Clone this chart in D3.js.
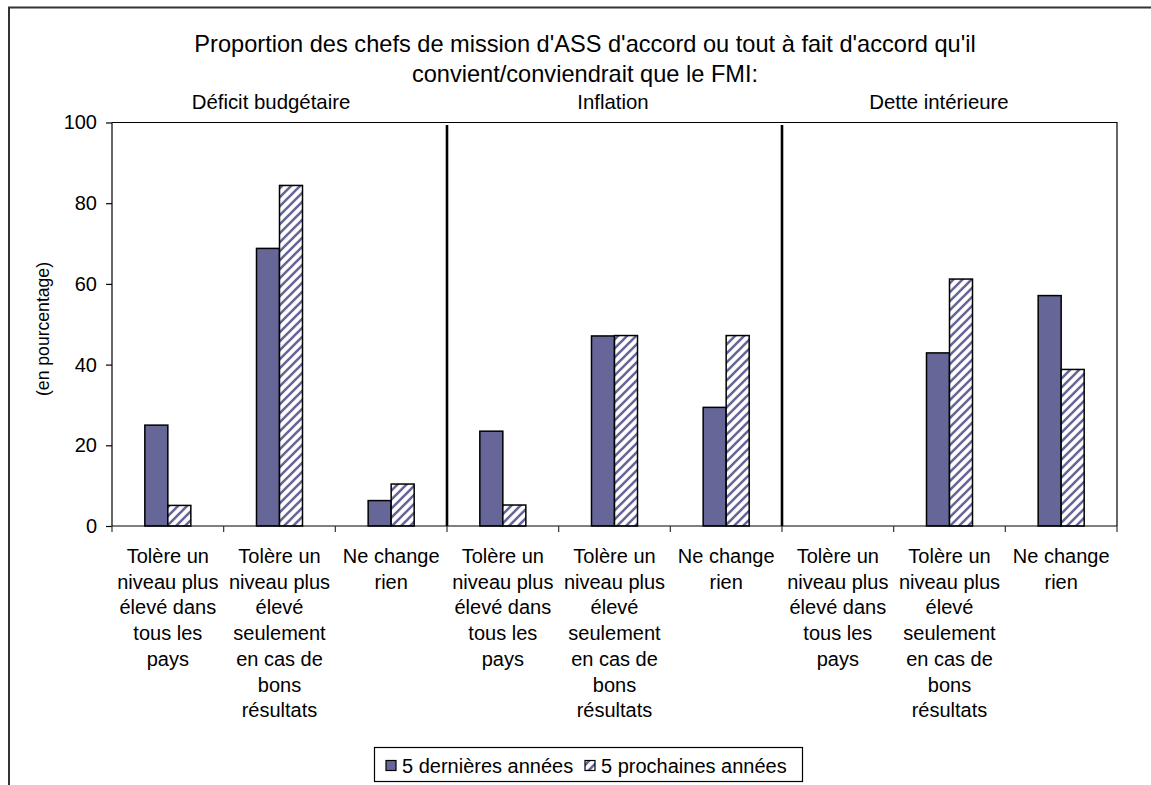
<!DOCTYPE html>
<html>
<head>
<meta charset="utf-8">
<script src="https://cdn.jsdelivr.net/npm/d3@7"></script>
<style>
  html, body { margin: 0; padding: 0; background: #fff; }
  svg { display: block; font-family: Arial, "Liberation Sans", sans-serif; }
</style>
</head>
<body>
<svg id="chart" width="1151" height="785"></svg>
<script>
// ---- data ----
const titleLines = ["Proportion des chefs de mission d'ASS d'accord ou tout à fait d'accord qu'il", "convient/conviendrait que le FMI:"];
const groups = ["Déficit budgétaire", "Inflation", "Dette intérieure"];
const optionLabels = [
  ["Tolère un", "niveau plus", "élevé dans", "tous les", "pays"],
  ["Tolère un", "niveau plus", "élevé", "seulement", "en cas de", "bons", "résultats"],
  ["Ne change", "rien"]
];
const series = ["5 dernières années", "5 prochaines années"];
const last5 = [25.0, 68.8, 6.3, 23.5, 47.1, 29.4, 0, 42.9, 57.1];
const next5 = [5.1, 84.4, 10.4, 5.2, 47.2, 47.2, 0, 61.2, 38.8];
const yTicks = [0, 20, 40, 60, 80, 100];
const yTitle = "(en pourcentage)";

// ---- layout ----
const svg = d3.select("#chart");
const W = 1151, H = 785;
const plot = { left: 112, right: 1117, top: 122.5, bottom: 526 };
const purple = "#666699";

svg.append("rect").attr("width", W).attr("height", H).attr("fill", "#fff");

// hatch pattern
const defs = svg.append("defs");
const pat = defs.append("pattern").attr("id", "hatch").attr("patternUnits", "userSpaceOnUse")
  .attr("width", 9).attr("height", 9);
pat.append("rect").attr("width", 9).attr("height", 9).attr("fill", "#fff");
pat.append("path").attr("d", "M-2,2 l4,-4 M0,9 l9,-9 M7,11 l4,-4")
  .attr("stroke", purple).attr("stroke-width", 2.6);

// outer frame
svg.append("path").attr("d", `M9,${H} L9,7.5 L${W},7.5`).attr("fill", "none")
  .attr("stroke", "#333").attr("stroke-width", 2);

// categories
const cats = [];
groups.forEach((g, gi) => optionLabels.forEach((o, oi) => cats.push({ id: gi * 3 + oi, group: gi, lines: o })));
const rows = cats.map((c, i) => ({ ...c, values: [last5[i], next5[i]] }));

const x0 = d3.scaleBand().domain(cats.map(c => c.id)).range([plot.left, plot.right]).paddingInner(0).paddingOuter(0);
const groupW = x0.bandwidth() * 0.412;
const x1 = d3.scaleBand().domain(series).range([0, groupW]).padding(0);
const y = d3.scaleLinear().domain([0, 100]).range([plot.bottom, plot.top]);

// plot frame (top & right)
svg.append("path").attr("d", `M${plot.left},${plot.top} L${plot.right},${plot.top} L${plot.right},${plot.bottom}`)
  .attr("fill", "none").attr("stroke", "#000").attr("stroke-width", 1.2);

// bars
const gBars = svg.append("g");
rows.forEach(r => {
  const off = x0(r.id) + (x0.bandwidth() - groupW) / 2;
  series.forEach((s, si) => {
    const v = r.values[si];
    if (v <= 0) return;
    gBars.append("rect")
      .attr("x", off + x1(s))
      .attr("y", y(v))
      .attr("width", x1.bandwidth())
      .attr("height", y(0) - y(v))
      .attr("fill", si === 0 ? purple : "url(#hatch)")
      .attr("stroke", "#000").attr("stroke-width", 1.5);
  });
});

// separators between groups
[3, 6].forEach(i => {
  const xs = x0(i);
  svg.append("line").attr("x1", xs).attr("x2", xs).attr("y1", plot.top + 2.5).attr("y2", plot.bottom)
    .attr("stroke", "#000").attr("stroke-width", 2.6);
});

// y axis
const yAxis = d3.axisLeft(y).tickValues(yTicks).tickSize(6).tickPadding(9);
const ya = svg.append("g").attr("transform", `translate(${plot.left},0)`).call(yAxis);
ya.select(".domain").attr("stroke", "#000").attr("stroke-width", 1.2).attr("d", `M0,${plot.top}V${plot.bottom}`);
ya.selectAll(".tick line").attr("stroke", "#000").attr("stroke-width", 1.2);
ya.selectAll(".tick text").attr("font-size", 20).attr("fill", "#000")
  .attr("font-family", "Arial, 'Liberation Sans', sans-serif");

// x axis: ticks at category boundaries
const bounds = cats.map(c => x0(c.id)).concat([plot.right]);
svg.append("line").attr("x1", plot.left).attr("x2", plot.right).attr("y1", plot.bottom).attr("y2", plot.bottom)
  .attr("stroke", "#000").attr("stroke-width", 1.2);
svg.append("g").selectAll("line").data(bounds).join("line")
  .attr("x1", d => d).attr("x2", d => d).attr("y1", plot.bottom).attr("y2", plot.bottom + 6)
  .attr("stroke", "#333").attr("stroke-width", 1.2);

// category labels
const labG = svg.append("g").attr("font-size", 20).attr("text-anchor", "middle").attr("fill", "#000");
cats.forEach(c => {
  const cx = x0(c.id) + x0.bandwidth() / 2;
  const t = labG.append("text").attr("x", cx).attr("y", 563);
  c.lines.forEach((ln, li) => {
    t.append("tspan").attr("x", cx).attr("y", 563 + li * 25.7).text(ln);
  });
});

// y axis title
svg.append("text").attr("transform", "translate(49,329) rotate(-90)")
  .attr("text-anchor", "middle").attr("font-size", 17.6).attr("fill", "#000").text(yTitle);

// title
titleLines.forEach((t, i) => {
  svg.append("text").attr("x", 585).attr("y", 52 + i * 29.5).attr("text-anchor", "middle")
    .attr("font-size", 23.6).attr("fill", "#000").text(t);
});

// group labels
const groupCenters = [271, 613, 939];
groups.forEach((g, i) => {
  svg.append("text").attr("x", groupCenters[i]).attr("y", 109).attr("text-anchor", "middle")
    .attr("font-size", 20.4).attr("fill", "#000").text(g);
});

// legend
const leg = svg.append("g");
leg.append("rect").attr("x", 374.5).attr("y", 747.5).attr("width", 428).attr("height", 34)
  .attr("fill", "#fff").attr("stroke", "#000").attr("stroke-width", 1.2);
const legItems = [{ sx: 386, tx: 402 }, { sx: 585, tx: 601 }];
series.forEach((s, i) => {
  leg.append("rect").attr("x", legItems[i].sx).attr("y", 760.5).attr("width", 10).attr("height", 10)
    .attr("fill", i === 0 ? purple : "url(#hatch)").attr("stroke", "#000").attr("stroke-width", 1.2);
  leg.append("text").attr("x", legItems[i].tx).attr("y", 772.5).attr("font-size", 20).attr("fill", "#000").text(s);
});
</script>
</body>
</html>
